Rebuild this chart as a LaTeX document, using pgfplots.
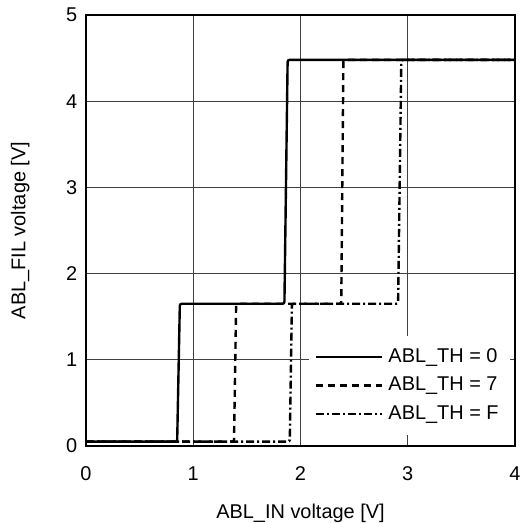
\documentclass[border=0pt]{standalone}
\usepackage{fontspec}
\setmainfont{Liberation Sans}
\usepackage{pgfplots}
\pgfplotsset{compat=1.18}
\begin{document}
\fontsize{20}{24}\selectfont
\begin{tikzpicture}
\begin{axis}[
  name=ax,
  scale only axis,
  width=429bp, height=431bp,
  xmin=0, xmax=4, ymin=0, ymax=5,
  xtick={0,1,2,3,4}, ytick={0,1,2,3,4,5},
  grid=major,
  major grid style={line width=0.8bp, black!75},
  axis line style={line width=1.6bp},
  tick style={draw=none},
  /pgf/number format/assume math mode=true,
  tick label style={font=\fontsize{20}{24}\selectfont},
  label style={font=\fontsize{20}{24}\selectfont},
  xticklabel style={yshift=-14bp},
  yticklabel style={xshift=-2bp},
  xlabel={ABL\_IN voltage [V]},
  ylabel={ABL\_FIL voltage [V]},
  xlabel style={yshift=-10bp},
  ylabel style={yshift=23bp},
  legend style={at={(0.988,0.026)}, anchor=south east, draw=none, fill=white,
    font=\fontsize{20}{24}\selectfont, row sep=8bp, inner xsep=6bp, inner ysep=10bp,
    nodes={inner xsep=5bp}},
  legend cell align=left,
  legend image code/.code={\draw[#1] (0bp,0bp) -- (62bp,0bp); \path (0bp,0bp) -- (66bp,0bp);},
  every axis plot/.append style={line width=2.4bp, black, rounded corners=2bp},
]
\addplot[solid] coordinates {(0,0.05) (0.85,0.05) (0.875,1.65) (1.85,1.65) (1.88,4.48) (4,4.48)};
\addlegendentry{ABL\_TH = 0}
\addplot[dash pattern=on 7bp off 5bp] coordinates {(0,0.05) (1.38,0.05) (1.40,1.65) (2.38,1.65) (2.40,4.48) (4,4.48)};
\addlegendentry{ABL\_TH = 7}
\addplot[dash pattern=on 8bp off 3bp on 2bp off 3bp] coordinates {(0,0.05) (1.90,0.05) (1.92,1.65) (2.91,1.65) (2.94,4.48) (4,4.48)};
\addlegendentry{ABL\_TH = F}
\end{axis}
\pgfresetboundingbox
\path[use as bounding box] ([shift={(-86bp,-77bp)}]ax.south west) rectangle ([shift={(11bp,15bp)}]ax.north east);
\end{tikzpicture}
\end{document}
